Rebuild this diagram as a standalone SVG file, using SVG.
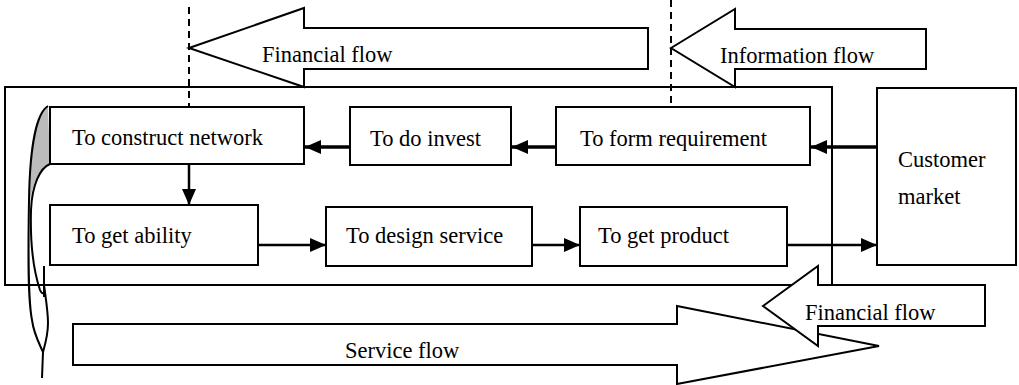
<svg xmlns="http://www.w3.org/2000/svg" width="1019" height="385" viewBox="0 0 1019 385">
<style>
  .box{fill:#fff;stroke:#000;stroke-width:2}
  .flow{fill:#fff;stroke:#000;stroke-width:2;stroke-linejoin:miter}
  .lbl{font-family:"Liberation Serif","Times New Roman",serif;font-size:22.5px;fill:#000}
  .conn{stroke:#000;fill:none}
  .thick{stroke-width:3.5}
  .thin{stroke-width:2.5}
  .dash{stroke:#000;stroke-width:2;stroke-dasharray:7 5;fill:none}
</style>
<defs>
  <marker id="ah" viewBox="0 0 16 14" refX="16" refY="7" markerWidth="16" markerHeight="14" markerUnits="userSpaceOnUse" orient="auto">
    <path d="M0,0 L16,7 L0,14 Z" fill="#000"/>
  </marker>
</defs>
<rect width="1019" height="385" fill="#fff"/>

<g id="container">
  <rect x="5" y="87" width="827" height="198" fill="none" stroke="#000" stroke-width="2"/>
</g>

<g id="financial-flow-top">
  <polygon class="flow" points="189,48 304,8 304,28 648,28 648,69 304,69 304,87"/>
  <text class="lbl" x="262" y="62">Financial flow</text>
</g>
<g id="information-flow">
  <polygon class="flow" points="671,48 735,9 735,29 926,29 926,69 735,69 735,87"/>
  <text class="lbl" x="720" y="63">Information flow</text>
</g>

<g id="dividers">
  <line class="dash" x1="189" y1="7" x2="189" y2="107"/>
  <line class="dash" x1="671" y1="0" x2="671" y2="107"/>
</g>

<g id="service-flow">
  <polygon class="flow" points="73,324 677,324 677,306 879,346 677,384 677,365 73,365"/>
  <text class="lbl" x="345" y="358">Service flow</text>
</g>
<g id="financial-flow-bottom">
  <polygon class="flow" points="763,306 818,266 818,285 985,285 985,326 818,326 818,346"/>
  <text class="lbl" x="805" y="320">Financial flow</text>
</g>

<g id="cycle-shape">
  <path d="M48,106 C38,112 31,140 30,170 L29,210 C31,190 36,172 50,164 Z" fill="#bbb" stroke="none"/>
  <path d="M48,106 C38,112 30,140 29,200 C28,260 28,300 32,320 C34,335 40,345 43,352 L42,378" fill="none" stroke="#000" stroke-width="2"/>
  <path d="M50,164 C40,168 32,185 31,210 C30,245 34,272 40,290 C42,295 45,294 44,288" fill="none" stroke="#000" stroke-width="2"/>
  <path d="M44,266 L44,297" fill="none" stroke="#000" stroke-width="2"/>
  <path d="M44,285 C46,300 48,312 48,323 C48,335 45,345 43,352" fill="none" stroke="#000" stroke-width="2"/>
</g>

<g id="construct-network">
  <rect class="box" x="50" y="107" width="254" height="57"/>
  <text class="lbl" x="72" y="145">To construct network</text>
</g>
<g id="do-invest">
  <rect class="box" x="350" y="107" width="161" height="58"/>
  <text class="lbl" x="370" y="146">To do invest</text>
</g>
<g id="form-requirement">
  <rect class="box" x="556" y="107" width="254" height="58"/>
  <text class="lbl" x="580" y="146">To form requirement</text>
</g>
<g id="customer-market">
  <rect class="box" x="877" y="88" width="139" height="177"/>
  <text class="lbl" x="898" y="167">Customer</text>
  <text class="lbl" x="898" y="204">market</text>
</g>
<g id="get-ability">
  <rect class="box" x="50" y="205" width="208" height="60"/>
  <text class="lbl" x="72" y="243">To get ability</text>
</g>
<g id="design-service">
  <rect class="box" x="326" y="207" width="206" height="59"/>
  <text class="lbl" x="346" y="243">To design service</text>
</g>
<g id="get-product">
  <rect class="box" x="580" y="207" width="207" height="59"/>
  <text class="lbl" x="598" y="243">To get product</text>
</g>

<g id="connectors">
  <line class="conn thick" x1="877" y1="147" x2="811" y2="147" marker-end="url(#ah)"/>
  <line class="conn thick" x1="556" y1="147" x2="512" y2="147" marker-end="url(#ah)"/>
  <line class="conn thick" x1="350" y1="147" x2="305" y2="147" marker-end="url(#ah)"/>
  <line class="conn thin" x1="189" y1="165" x2="189" y2="205" marker-end="url(#ah)"/>
  <line class="conn thin" x1="258" y1="245" x2="326" y2="245" marker-end="url(#ah)"/>
  <line class="conn thin" x1="532" y1="245" x2="580" y2="245" marker-end="url(#ah)"/>
  <line class="conn thin" x1="787" y1="245" x2="877" y2="245" marker-end="url(#ah)"/>
</g>
</svg>
